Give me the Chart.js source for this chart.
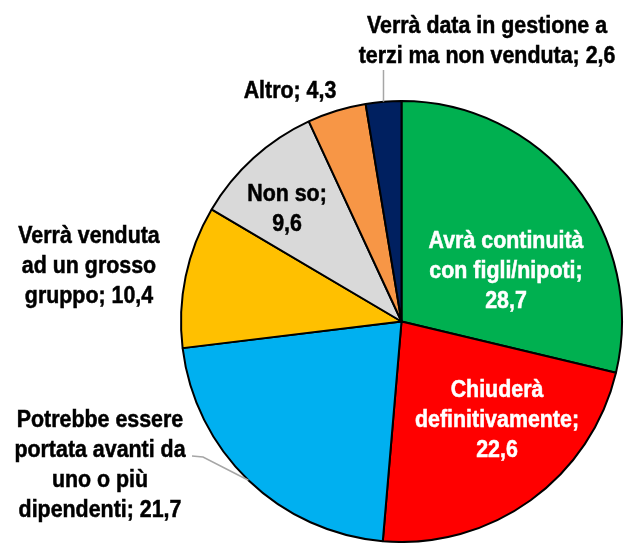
<!DOCTYPE html>
<html>
<head>
<meta charset="utf-8">
<script src="https://cdn.jsdelivr.net/npm/chart.js@4"></script>
<style>
  html, body { margin: 0; padding: 0; background: #fff; }
  #wrap { width: 625px; height: 543px; }
</style>
</head>
<body>
<div id="wrap"><canvas id="pie" width="625" height="543"></canvas></div>
<script>
// Category names, already wrapped onto the lines they are drawn on
var categoryLines = [
    ['Avrà continuità', 'con figli/nipoti'],
    ['Chiuderà', 'definitivamente'],
    ['Potrebbe essere', 'portata avanti da', 'uno o più', 'dipendenti'],
    ['Verrà venduta', 'ad un grosso', 'gruppo'],
    ['Non so'],
    ['Altro'],
    ['Verrà data in gestione a', 'terzi ma non venduta']
];
var values = [28.7, 22.6, 21.7, 10.4, 9.6, 4.3, 2.6];
var colors = ['#00B050', '#FF0000', '#00B0F0', '#FFC000', '#D9D9D9', '#F79646', '#002060'];

// Label placement relative to the pie centre (x = text centre, y = first baseline)
var labelLayout = [
    { dx: 104.5, dy: -73.5, color: '#ffffff', inline: false },
    { dx: 95.5, dy: 75.5, color: '#ffffff', inline: false },
    { dx: -301.5, dy: 105.5, color: '#000000', inline: true, leader: [[-198.5, 135.5], [-209.5, 134.5]] },
    { dx: -312.5, dy: -78.5, color: '#000000', inline: true },
    { dx: -114.5, dy: -120.5, color: '#000000', inline: false },
    { dx: -111.5, dy: -223.5, color: '#000000', inline: true },
    { dx: 85.5, dy: -288.5, color: '#000000', inline: true, leaderUp: -251.5 }
];

var LINE_H = 30;
var FONT = 'bold 23px "Liberation Sans", Arial, sans-serif';

function fmt(v) {
    return v.toFixed(1).replace('.', ',');
}

function buildLines(i) {
    var lines = categoryLines[i].slice();
    var last = lines.length - 1;
    if (labelLayout[i].inline) {
        lines[last] += '; ' + fmt(values[i]);
    } else {
        lines[last] += ';';
        lines.push(fmt(values[i]));
    }
    return lines;
}

var sliceLabels = {
    id: 'sliceLabels',
    afterDatasetsDraw: function (chart) {
        var ctx = chart.ctx;
        var arcs = chart.getDatasetMeta(0).data;
        ctx.save();
        arcs.forEach(function (arc, i) {
            var L = labelLayout[i];
            var cx = arc.x, cy = arc.y;
            var mid = (arc.startAngle + arc.endAngle) / 2;
            var ex = cx + Math.cos(mid) * arc.outerRadius;
            var ey = cy + Math.sin(mid) * arc.outerRadius;

            // leader lines
            if (L.leader || L.leaderUp !== undefined) {
                ctx.beginPath();
                ctx.strokeStyle = '#A6A6A6';
                ctx.lineWidth = 1.5;
                ctx.moveTo(ex, ey);
                if (L.leader) {
                    L.leader.forEach(function (p) { ctx.lineTo(cx + p[0], cy + p[1]); });
                } else {
                    ctx.lineTo(ex, cy + L.leaderUp);
                }
                ctx.stroke();
            }

            // text, slightly condensed and a touch heavier
            var lines = buildLines(i);
            ctx.font = FONT;
            ctx.fillStyle = L.color;
            ctx.strokeStyle = L.color;
            ctx.lineWidth = 0.5;
            ctx.textAlign = 'center';
            ctx.textBaseline = 'alphabetic';
            lines.forEach(function (t, k) {
                ctx.save();
                ctx.translate(cx + L.dx, cy + L.dy + k * LINE_H);
                ctx.scale(0.93, 1);
                ctx.fillText(t, 0, 0);
                ctx.strokeText(t, 0, 0);
                ctx.restore();
            });
        });
        ctx.restore();
    }
};

new Chart(document.getElementById('pie'), {
    type: 'pie',
    data: {
        labels: categoryLines.map(function (l) { return l.join(' '); }),
        datasets: [{
            data: values,
            backgroundColor: colors,
            borderColor: '#000000',
            borderWidth: 2
        }]
    },
    options: {
        responsive: false,
        animation: false,
        layout: { padding: { left: 180, right: 2, top: 100, bottom: 0 } },
        plugins: {
            legend: { display: false },
            tooltip: { enabled: false }
        }
    },
    plugins: [sliceLabels]
});
</script>
</body>
</html>
